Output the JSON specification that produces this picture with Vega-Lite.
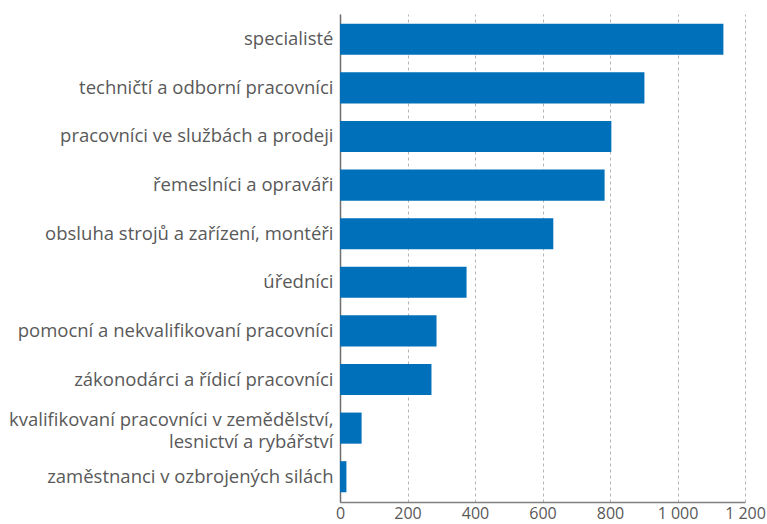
{
  "$schema": "https://vega.github.io/schema/vega-lite/v6.json",
  "autosize": "none",
  "width": 405,
  "height": 488,
  "padding": {"left": 340, "top": 14, "right": 22, "bottom": 22},
  "background": "white",
  "data": {
    "values": [
      {"label": "specialisté", "value": 1136},
      {"label": "techničtí a odborní pracovníci", "value": 902},
      {"label": "pracovníci ve službách a prodeji", "value": 804},
      {"label": "řemeslníci a opraváři", "value": 784},
      {"label": "obsluha strojů a zařízení, montéři", "value": 632},
      {"label": "úředníci", "value": 375},
      {"label": "pomocní a nekvalifikovaní pracovníci", "value": 286},
      {"label": "zákonodárci a řídicí pracovníci", "value": 271},
      {"label": "kvalifikovaní pracovníci v zemědělství,|lesnictví a rybářství", "value": 64},
      {"label": "zaměstnanci v ozbrojených silách", "value": 19}
    ]
  },
  "mark": {"type": "bar", "color": "#0070BA"},
  "encoding": {
    "y": {
      "field": "label",
      "type": "nominal",
      "sort": null,
      "scale": {"paddingInner": 0.36, "paddingOuter": 0.2},
      "axis": {
        "title": null,
        "ticks": false,
        "labelPadding": 7,
        "labelFont": "Open Sans",
        "labelFontSize": 18.5,
        "labelColor": "#595959",
        "labelLimit": 400,
        "labelLineHeight": 22,
        "labelOffset": {"condition": {"test": "indexof(datum.value, '|') >= 0", "value": -8}, "value": 0},
        "labelExpr": "split(datum.label, '|')",
        "domainColor": "#6e6e6e",
        "domainWidth": 1.5
      }
    },
    "x": {
      "field": "value",
      "type": "quantitative",
      "scale": {"domain": [0, 1200], "nice": false},
      "axis": {
        "title": null,
        "values": [0, 200, 400, 600, 800, 1000, 1200],
        "ticks": false,
        "labelFlush": false,
        "labelPadding": 3,
        "labelFont": "Open Sans",
        "labelFontSize": 16,
        "labelColor": "#595959",
        "labelExpr": "replace(format(datum.value, ','), ',', ' ')",
        "domainColor": "#808080",
        "domainWidth": 1.5,
        "grid": true,
        "gridColor": "#b4b4b4",
        "gridDash": [3, 3],
        "gridWidth": 1
      }
    }
  },
  "config": {"view": {"stroke": null}}
}
